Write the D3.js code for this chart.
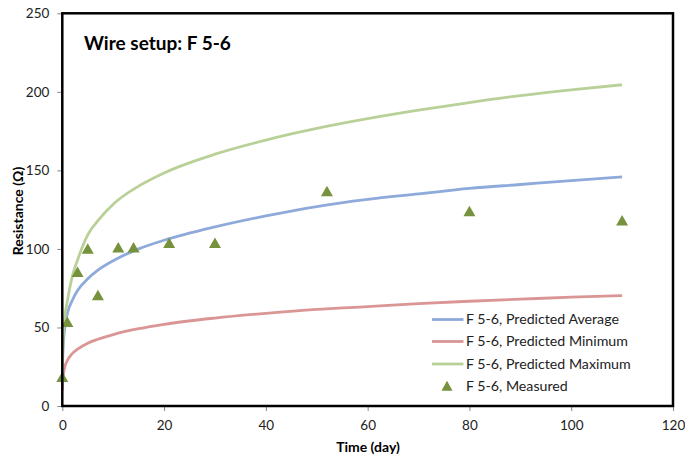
<!DOCTYPE html>
<html>
<head>
<meta charset="utf-8">
<script src="https://cdn.jsdelivr.net/npm/d3@7"></script>
<style>
  body { margin: 0; background: #fff; }
  svg { display: block; }
  text { font-family: Lato, "Open Sans", "Liberation Sans", sans-serif; }
</style>
</head>
<body>
<svg id="chart" width="685" height="459"></svg>
<script>
// ---- data ----
const predTime = [0, 0.1, 0.25, 0.5, 1, 2, 3, 5, 7, 10, 15, 20, 30, 40, 50, 60, 70, 80, 90, 100, 110];
const predAverage = [20, 33, 42, 50, 59, 67.5, 73.5, 81, 86.5, 92.5, 100, 105.5, 114, 121, 127, 131.5, 135, 138.5, 141, 143.5, 145.8];
const predMinimum = [10, 17, 21, 25, 29, 33.5, 36.2, 40, 42.5, 45.5, 49.2, 52, 56, 59, 61.5, 63.3, 65.2, 66.7, 68, 69.3, 70.3];
const predMaximum = [22, 38, 48, 57, 67, 83, 93, 109, 118, 128.5, 140, 148.4, 160.3, 169.3, 176.7, 182.9, 188.3, 193.2, 197.6, 201.3, 204.5];
const measTime = [0, 1, 3, 5, 7, 11, 14, 21, 30, 52, 80, 110];
const measValue = [18.6, 53.6, 85.4, 100.3, 70.6, 101, 101, 103.9, 103.9, 136.8, 124.2, 118.3];
const xTicks = [0, 20, 40, 60, 80, 100, 120];
const yTicks = [0, 50, 100, 150, 200, 250];
const seriesNames = ["F 5-6, Predicted Average", "F 5-6, Predicted Minimum", "F 5-6, Predicted Maximum", "F 5-6, Measured"];
const titleText = "Wire setup: F 5-6";
const xTitle = "Time (day)";
const yTitle = "Resistance (Ω)";

// ---- layout ----
const svg = d3.select("#chart");
const M = { left: 62.3, right: 673, top: 13.3, bottom: 406 };
const x = d3.scaleLinear().domain([0, 120]).range([M.left, M.right]);
const y = d3.scaleLinear().domain([0, 250]).range([M.bottom, M.top]);

const colors = { avg: "#8eaadb", min: "#d99694", max: "#b9d198", meas: "#76923c" };

// axes
const xAxis = d3.axisBottom(x).tickValues(xTicks).tickSize(5).tickPadding(9).tickFormat(d3.format("d"));
const yAxis = d3.axisLeft(y).tickValues(yTicks).tickSize(5).tickPadding(8).tickFormat(d3.format("d"));
const gx = svg.append("g").attr("transform", `translate(0,${M.bottom})`).call(xAxis);
const gy = svg.append("g").attr("transform", `translate(${M.left},0)`).call(yAxis);
[gx, gy].forEach(g => {
  g.select(".domain").remove();
  g.selectAll(".tick line").attr("stroke", "#868686").attr("stroke-width", 1);
  g.selectAll(".tick text").attr("fill", "#222").style("font-size", "13.5px");
});

// lines
const line = (vals) => d3.line().x((d, i) => x(predTime[i])).y(d => y(d)).curve(d3.curveMonotoneX)(vals);
const plot = svg.append("g");
plot.append("path").attr("d", line(predMinimum)).attr("fill", "none").attr("stroke", colors.min).attr("stroke-width", 2.8);
plot.append("path").attr("d", line(predAverage)).attr("fill", "none").attr("stroke", colors.avg).attr("stroke-width", 2.8);
plot.append("path").attr("d", line(predMaximum)).attr("fill", "none").attr("stroke", colors.max).attr("stroke-width", 2.8);

const tri = (w, h) => `M0,${-h / 2}L${w / 2},${h / 2}L${-w / 2},${h / 2}Z`;
plot.selectAll("path.meas").data(measTime).join("path").attr("class", "meas")
  .attr("d", tri(12, 10.5))
  .attr("transform", (d, i) => `translate(${x(d)},${y(measValue[i])})`)
  .attr("fill", colors.meas);

// legend
const lg = svg.append("g");
lg.append("rect").attr("x", 420).attr("y", 306).attr("width", 252).attr("height", 99).attr("fill", "#fff");
const legendKeys = ["avg", "min", "max", "meas"];
const ly = [319.5, 341.5, 364, 385.8];
legendKeys.forEach((k, i) => {
  if (k === "meas") {
    lg.append("path").attr("d", tri(11, 10)).attr("transform", `translate(447,${ly[i]})`).attr("fill", colors.meas);
  } else {
    lg.append("line").attr("x1", 432).attr("x2", 463.5).attr("y1", ly[i]).attr("y2", ly[i])
      .attr("stroke", colors[k]).attr("stroke-width", 2.8);
  }
  lg.append("text").attr("x", 466).attr("y", ly[i]).attr("dy", "0.35em")
    .style("font-size", "14.2px").attr("fill", "#222").text(seriesNames[i]);
});

// plot frame
svg.append("rect").attr("x", M.left).attr("y", M.top).attr("width", M.right - M.left).attr("height", M.bottom - M.top)
  .attr("fill", "none").attr("stroke", "#000").attr("stroke-width", 2.5);

// title
svg.append("text").attr("x", 84).attr("y", 50).style("font-size", "19px").style("font-weight", "bold")
  .attr("fill", "#000").text(titleText);

// axis titles
svg.append("text").attr("x", 368).attr("y", 452).attr("text-anchor", "middle")
  .style("font-size", "14px").style("font-weight", "bold").attr("fill", "#000").text(xTitle);
svg.append("text").attr("transform", "translate(23,211) rotate(-90)").attr("text-anchor", "middle")
  .style("font-size", "14px").style("font-weight", "bold").attr("fill", "#000").text(yTitle);
</script>
</body>
</html>
